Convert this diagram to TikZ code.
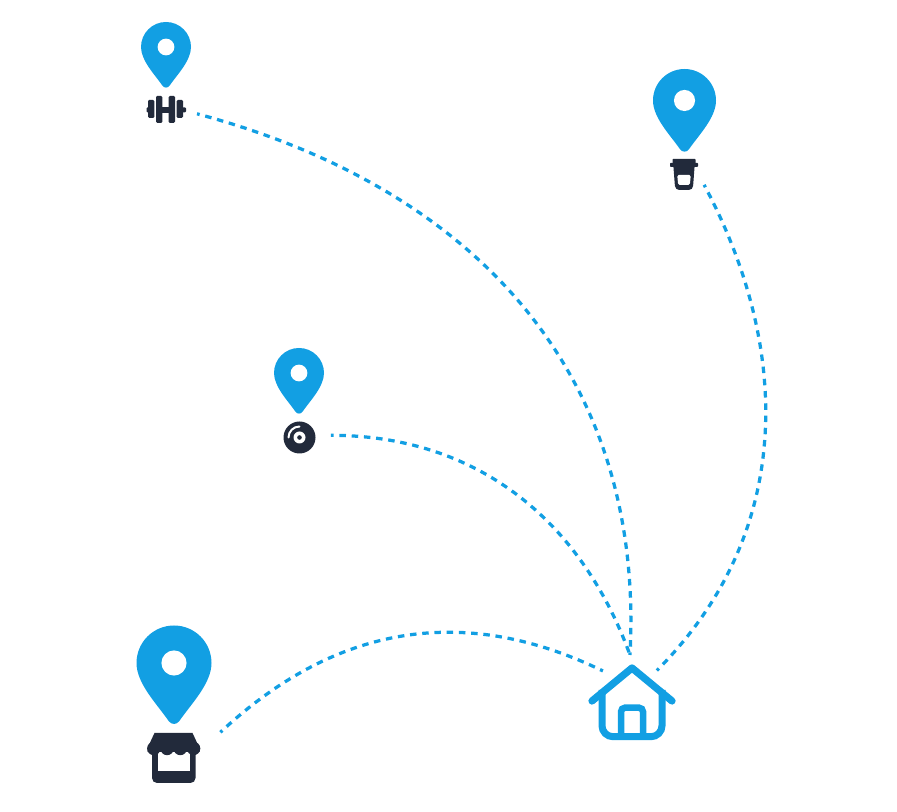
\documentclass[tikz,border=0pt]{standalone}
\definecolor{pinblue}{HTML}{129FE3}
\definecolor{icondark}{HTML}{222A3B}
\begin{document}
\begin{tikzpicture}[x=.2mm,y=.2mm]

	\tikzset{stop/.style={circle, inner sep=0pt, outer sep=0pt},
		route/.style={draw=pinblue, line width=.65mm, dash pattern=on 1.3mm off 1.15mm, dash phase=.75mm},
		pics/pin/.style={code={
			\fill[pinblue] (-1,0) arc[start angle=180, end angle=0, radius=1]
				.. controls (1,-.55) and (.45,-1.1) .. (.14,-1.55)
				.. controls (.07,-1.65) and (-.07,-1.65) .. (-.14,-1.55)
				.. controls (-.45,-1.1) and (-1,-.55) .. (-1,0) -- cycle;
			\fill[white] (0,0) circle (.335);
		}},
		pics/gymicon/.style={code={
			\fill[icondark, rounded corners=.2mm] (-20,-2.5) rectangle (-15,2.5);
			\fill[icondark, rounded corners=.2mm] (13,-2.5) rectangle (19.5,2.5);
			\fill[icondark, rounded corners=.25mm] (-18.5,-8) rectangle (-12.2,10);
			\fill[icondark, rounded corners=.25mm] (10.2,-8) rectangle (16.5,10);
			\fill[icondark, rounded corners=.25mm] (-10.5,-13) rectangle (-4.2,14);
			\fill[icondark, rounded corners=.25mm] (2.2,-13) rectangle (8.5,14);
			\fill[icondark] (-5,-3) rectangle (3,3);
		}},
		pics/cupicon/.style={code={
			\fill[icondark, rounded corners=.15mm] (-11.5,16) rectangle (11.5,10);
			\fill[icondark, rounded corners=.15mm] (-14,12) rectangle (14,8);
			\fill[icondark, rounded corners=.8mm] (-11,14) -- (11,14) -- (8.8,-15) -- (-8.8,-15) -- cycle;
			\fill[white, rounded corners=.3mm] (-6.8,0) -- (6.8,0) -- (5.8,-10) -- (-5.8,-10) -- cycle;
		}},
		pics/discicon/.style={code={
			\fill[icondark] (0,0) circle (16);
			\fill[white] (0,0) circle (6);
			\fill[icondark] (0,0) circle (2.3);
			\draw[white, line width=.4mm, line cap=round] (-11,0) arc[start angle=180, end angle=90, radius=11];
		}},
		pics/shopicon/.style={code={
			\fill[icondark, rounded corners=1mm] (-22,22) rectangle (21.5,-25);
			\fill[white] (-16,10) rectangle (15.5,-13);
			\fill[icondark] (-19.5,25) -- (18.5,25) -- (25.5,10) -- (25.5,6) -- (-26.5,6) -- (-26.5,10) -- cycle;
			\foreach \i in {-20.2,-6.9,6.3,19.6}
				\fill[icondark] (\i,9.5) circle (6.7);
		}},
		pics/homeicon/.style={code={
			\draw[pinblue, line width=1.45mm, line cap=round, line join=round] (-40,2) -- (0,35) -- (40,2);
			\draw[pinblue, line width=1.4mm, rounded corners=2.2mm] (-30,13) -- (-30,-33.7) -- (30,-33.7) -- (30,13);
			\draw[pinblue, line width=1.3mm, rounded corners=.8mm] (-11,-33.7) -- (-11,-4.7) -- (11,-4.7) -- (11,-33.7);
		}}}
%% Pins
	\pic[scale=25] at (166,765) {pin};
	\pic[scale=31.5] at (684.5,711.5) {pin};
	\pic[scale=25] at (299,439) {pin};
	\pic[scale=37.5] at (174,149) {pin};
%% Places
	\node[stop, minimum size=12.5mm] (gym) at (166,702) {};
	\node[stop, minimum size=8.96mm] (cup) at (684,637) {};
	\node[stop, minimum size=12.8mm] (disc) at (299,375) {};
	\node[stop, minimum size=21.2mm] (shop) at (174,54) {};
	\node[stop, minimum size=12.4mm] (home) at (630,126) {};
	\pic at (166.5,702) {gymicon};
	\pic at (684,637) {cupicon};
	\pic at (299.5,374.5) {discicon};
	\pic at (174,54) {shopicon};
	\pic at (632,109) {homeicon};
%% Routes
	\path (gym.-7) edge [route, out=-15, in=87, looseness=1.05] (home.90);
	\path (cup.-26.6) edge [route, out=-62, in=45, looseness=1] (home.30);
	\path (disc.3.6) edge [route, out=0, in=110] (home.90);
	\path (shop.29.5) edge [route, out=43, in=154, looseness=1.03] (home.151);
	\useasboundingbox (0,0) rectangle (897,812);

\end{tikzpicture}
\end{document}
